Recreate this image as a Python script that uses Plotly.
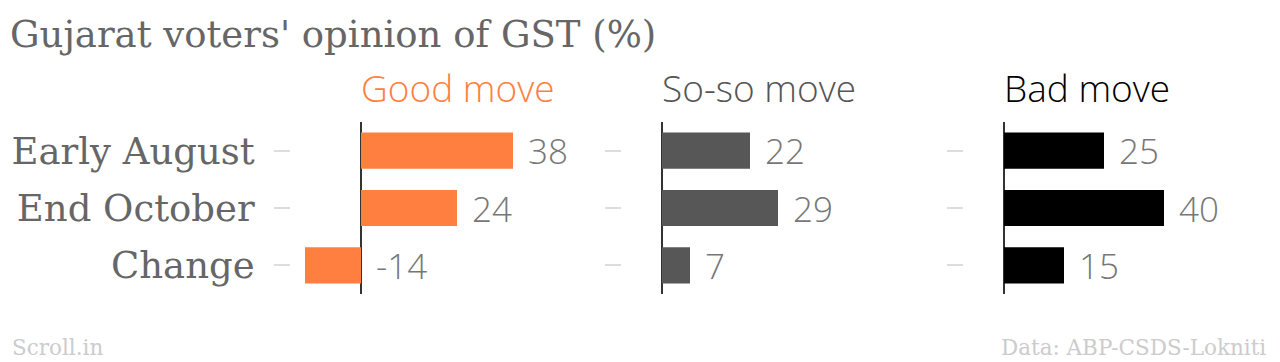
import plotly.graph_objects as go

# ---- data ----
rows = ["Early August", "End October", "Change"]
panels = ["Good move", "So-so move", "Bad move"]
good = [38, 24, -14]
soso = [22, 29, 7]
bad = [25, 40, 15]
footer_left = "Scroll.in"
footer_right = "Data: ABP-CSDS-Lokniti"
title = "Gujarat voters' opinion of GST (%)"

values = [good, soso, bad]
bar_colors = ["#ff7f41", "#575757", "#000000"]
title_colors = ["#ff7f41", "#555555", "#000000"]

W, H = 1280, 362
T, B = 122, 68
# panel pixel extents & ranges (4 px per unit)
px_dom = [(291, 591), (622, 932), (964, 1270)]
xmins = [-17.5, -10, -10]

SERIF = "DejaVu Serif"
SANS = "Open Sans"

fig = go.Figure()
for i, vals in enumerate(values):
    xa = "x" if i == 0 else f"x{i+1}"
    ya = "y" if i == 0 else f"y{i+1}"
    fig.add_trace(go.Bar(
        x=vals, y=rows, orientation="h", xaxis=xa, yaxis=ya,
        marker=dict(color=bar_colors[i], line=dict(width=0)),
        hoverinfo="skip", showlegend=False,
    ))
    for r, v in zip(rows, vals):
        fig.add_annotation(
            x=max(v, 0), y=r, xref=xa, yref=ya, text=str(v),
            showarrow=False, xanchor="left", yanchor="middle", xshift=13,
            font=dict(family=SANS, size=35, color="#777777", weight=300),
        )
    fig.add_annotation(
        x=0, y=1.2, xref=xa, yref="paper", text=panels[i],
        showarrow=False, xanchor="left", yanchor="middle", xshift=-2,
        font=dict(family=SANS, size=37, color=title_colors[i], weight=300),
    )

axis_common_x = dict(showgrid=False, showticklabels=False, ticks="",
                     zeroline=True, zerolinecolor="#333333", zerolinewidth=2,
                     showline=False, fixedrange=True)
layout_axes = {}
for i in range(3):
    x0, x1 = px_dom[i]
    span = (x1 - x0) / 4.0
    kx = "xaxis" if i == 0 else f"xaxis{i+1}"
    ky = "yaxis" if i == 0 else f"yaxis{i+1}"
    layout_axes[kx] = dict(axis_common_x, domain=[x0 / W, x1 / W],
                           range=[xmins[i], xmins[i] + span],
                           anchor="y" if i == 0 else f"y{i+1}")
    layout_axes[ky] = dict(
        type="category", categoryorder="array", categoryarray=rows,
        range=[2.5, -0.5], anchor="x" if i == 0 else f"x{i+1}",
        showgrid=False, zeroline=False, showline=False,
        ticks="outside", ticklen=16, tickwidth=2, tickcolor="#dddddd",
        showticklabels=(i == 0), ticklabelstandoff=12,
        tickfont=dict(family=SERIF, size=37, color="#666666"),
        automargin=False, fixedrange=True,
    )

fig.update_layout(
    width=W, height=H,
    margin=dict(l=0, r=0, t=T, b=B, pad=0),
    paper_bgcolor="white", plot_bgcolor="white",
    bargap=0.37,
    title=dict(text=title, x=10 / W, xanchor="left", xref="paper",
               y=1 - 34 / H, yanchor="middle", yref="container",
               font=dict(family=SERIF, size=37, color="#666666")),
    **layout_axes,
)

# footer
ph = H - T - B
fig.add_annotation(x=10 / W, y=(H - B - 347) / ph, xref="paper", yref="paper",
                   text=footer_left, showarrow=False, xanchor="left", yanchor="middle",
                   font=dict(family=SERIF, size=21.5, color="#cccccc"))
fig.add_annotation(x=1268 / W, y=(H - B - 347) / ph, xref="paper", yref="paper",
                   text=footer_right, showarrow=False, xanchor="right", yanchor="middle",
                   font=dict(family=SERIF, size=21.5, color="#cccccc"))

fig.write_html("out.html", config={"displayModeBar": False},
               post_script="document.body.style.margin='0';")
